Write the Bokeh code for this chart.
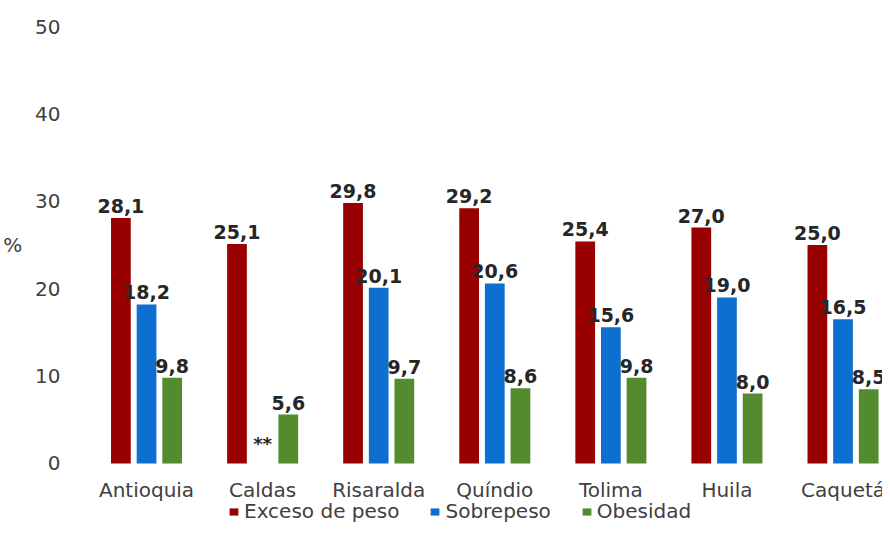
import numpy as np
from bokeh.plotting import figure
from bokeh.models import ColumnDataSource, FixedTicker, Legend, LegendItem
from bokeh.core.properties import value
from bokeh.embed import file_html
from bokeh.resources import INLINE

# ---- data ----
departamentos = ["Antioquia", "Caldas", "Risaralda", "Quíndio", "Tolima", "Huila", "Caquetá"]
exceso = [28.1, 25.1, 29.8, 29.2, 25.4, 27.0, 25.0]
sobrepeso = [18.2, None, 20.1, 20.6, 15.6, 19.0, 16.5]   # Caldas: "**"
obesidad = [9.8, 5.6, 9.7, 8.6, 9.8, 8.0, 8.5]
series_names = ["Exceso de peso", "Sobrepeso", "Obesidad"]
y_ticks = [0, 10, 20, 30, 40, 50]
y_title = "%"

# ---- style ----
colors = ["#990000", "#0D6FCF", "#558B2F"]
offsets = [-0.221, 0.0, 0.221]
bar_w = 0.17
FONT = "DejaVu Sans"
TXT = "#404040"
Y_LOW = -6.87   # room under the zero line for category names and legend

idx = np.arange(len(departamentos))

p = figure(width=882, height=523, x_range=(-0.5, 6.34), y_range=(Y_LOW, 50),
           output_backend="svg", toolbar_location=None,
           min_border_left=78, min_border_right=0, min_border_top=26,
           min_border_bottom=0)

p.xgrid.visible = False
p.ygrid.visible = False
p.xaxis.visible = False
p.outline_line_color = None
p.background_fill_color = "white"
p.border_fill_color = "white"

renderers = []
for name, vals, col, off in zip(series_names, [exceso, sobrepeso, obesidad], colors, offsets):
    top = [np.nan if v is None else v for v in vals]
    labels = ["" if v is None else f"{v:.1f}".replace(".", ",") for v in vals]
    src = ColumnDataSource(dict(x=idx + off, top=top, lab=labels,
                                ly=[0 if v is None else v for v in vals]))
    r = p.vbar(x="x", top="top", bottom=0, width=bar_w, source=src, color=col, line_color=None)
    renderers.append(r)
    p.text(x="x", y="ly", text="lab", source=src, text_font=value(FONT),
           text_font_style="bold", text_font_size="19px", text_color="#262626",
           text_align="center", text_baseline="alphabetic", y_offset=-12)

# "**" marker for missing Sobrepeso value
miss = [i for i, v in enumerate(sobrepeso) if v is None]
msrc = ColumnDataSource(dict(x=[i + offsets[1] for i in miss], y=[0] * len(miss),
                             t=["**"] * len(miss)))
p.text(x="x", y="y", text="t", source=msrc, text_font=value(FONT),
       text_font_style="bold", text_font_size="18px", text_color="#262626",
       text_align="center", text_baseline="alphabetic", y_offset=-20)

# category names under the zero line
csrc = ColumnDataSource(dict(x=idx, y=[0] * len(idx), t=departamentos))
p.text(x="x", y="y", text="t", source=csrc, text_font=value(FONT),
       text_font_size="20px", text_color=TXT,
       text_align="center", text_baseline="middle", y_offset=27)

# y axis; the "%" title sits at the middle of the 0-50 span
mid = (y_ticks[0] + y_ticks[-1]) / 2
p.yaxis.ticker = FixedTicker(ticks=y_ticks + [mid])
p.yaxis.major_label_overrides = {mid: y_title + "\u00a0" * 6}
ax = p.yaxis[0]
ax.axis_line_color = None
ax.major_tick_line_color = None
ax.minor_tick_line_color = None
ax.major_label_text_font = FONT
ax.major_label_text_font_size = "20px"
ax.major_label_text_color = TXT
ax.major_label_standoff = 22

legend = Legend(items=[LegendItem(label=n, renderers=[r]) for n, r in zip(series_names, renderers)],
                orientation="horizontal", location=(140, 0),
                glyph_width=11, glyph_height=9, label_standoff=5, spacing=30,
                padding=0, margin=0, border_line_color=None, background_fill_alpha=0,
                label_text_font=FONT, label_text_font_size="20px", label_text_color=TXT)
p.add_layout(legend)

open("out.html", "w").write(file_html(p, INLINE))
